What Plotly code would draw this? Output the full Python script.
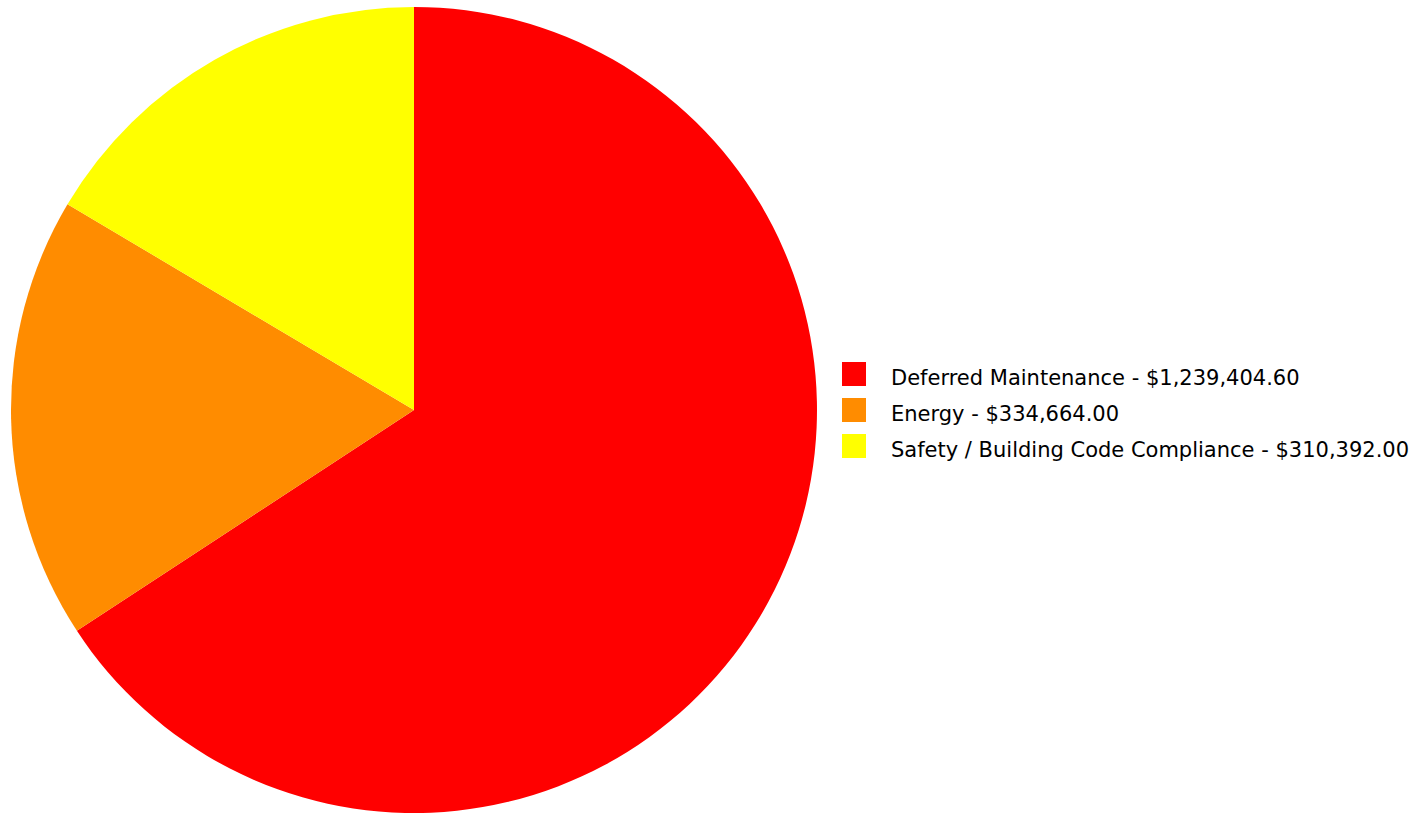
import plotly.graph_objects as go

labels = ["Deferred Maintenance", "Energy", "Safety / Building Code Compliance"]
values = [1239404.60, 334664.00, 310392.00]
colors = ["#FF0000", "#FF8C00", "#FFFF00"]

W, H = 1414, 813
L, T = 11, 7
PW, PH = W - L, H - T

fig = go.Figure()
fig.add_trace(go.Pie(
    labels=labels,
    values=values,
    sort=False,
    direction="clockwise",
    rotation=0,
    textinfo="none",
    hoverinfo="label+value",
    marker=dict(colors=colors, line=dict(width=0)),
    showlegend=False,
    domain=dict(x=[0, 806 / PW], y=[0, 1]),
))

# Legend drawn as squares + text, from the data lists
sq_x0, sq_x1 = 842, 866
text_x = 889
row_y = [374, 410, 446]
for lab, val, col, yc in zip(labels, values, colors, row_y):
    fig.add_shape(type="rect", xref="paper", yref="paper",
                  x0=(sq_x0 - L) / PW, x1=(sq_x1 - L) / PW,
                  y0=(H - yc - 12) / PH, y1=(H - yc + 12) / PH,
                  fillcolor=col, line=dict(width=0))
    fig.add_annotation(xref="paper", yref="paper",
                       x=(text_x - L) / PW, y=(H - yc - 4) / PH,
                       xanchor="left", yanchor="middle", showarrow=False,
                       text=f"{lab} - ${val:,.2f}",
                       font=dict(family="DejaVu Sans", size=21, color="#000000"))

fig.update_layout(
    width=W, height=H,
    margin=dict(l=L, r=0, t=T, b=0),
    paper_bgcolor="white", plot_bgcolor="white",
)

fig.write_html("out.html")
